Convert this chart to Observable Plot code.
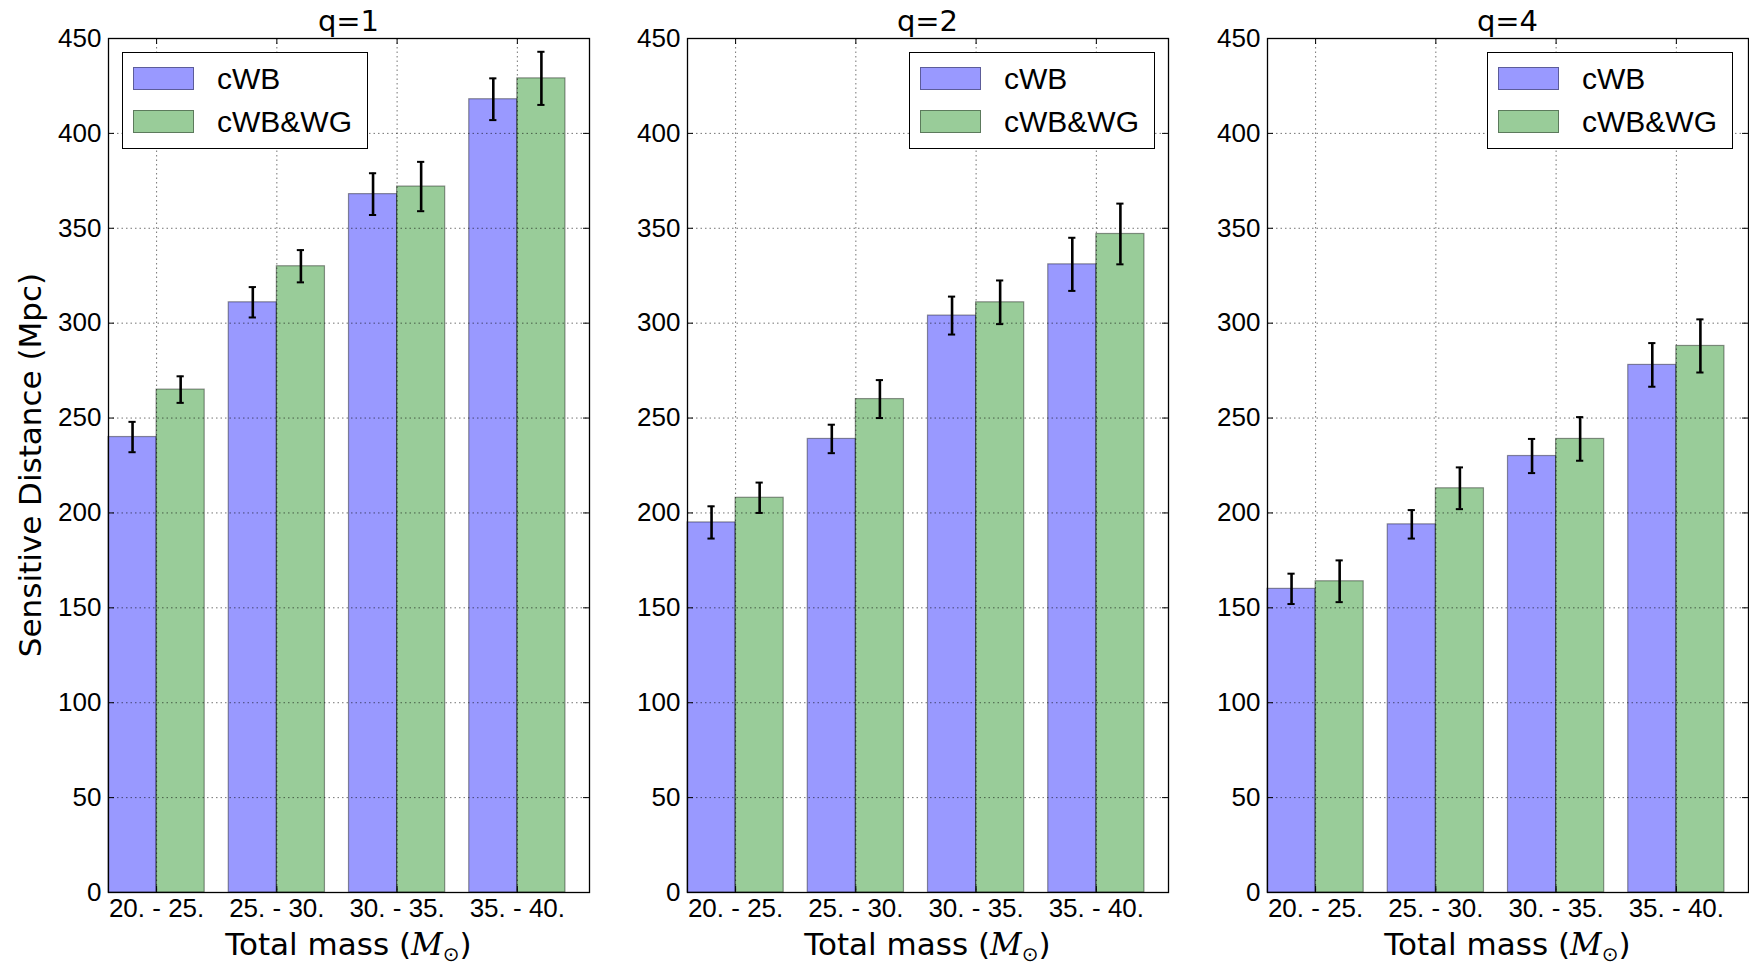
<!DOCTYPE html>
<html><head><meta charset="utf-8">
<script src="https://cdn.jsdelivr.net/npm/d3@7"></script>
<script src="https://cdn.jsdelivr.net/npm/@observablehq/plot@0.6"></script>
<style>
body{margin:0;background:#fff;}
#chart{position:relative;width:1749px;height:968px;overflow:hidden;background:#fff;}
.panel{position:absolute;top:0;}
.legend{position:absolute;background:#fff;border:1.5px solid #000;box-sizing:border-box;font-family:"Liberation Sans",sans-serif;font-size:30px;color:#000;}
.legend .sw{position:absolute;box-sizing:border-box;}
.legend .lab{position:absolute;white-space:nowrap;line-height:1;}
</style>
</head><body>
<div id="chart"></div>
<script>
// ---- data ----
const categories = ["20. - 25.", "25. - 30.", "30. - 35.", "35. - 40."];
const seriesNames = ["cWB", "cWB&WG"];
const panelTitles = ["q=1", "q=2", "q=4"];
const cwbValues = [[240, 311, 368, 418], [195, 239, 304, 331], [160, 194, 230, 278]];
const cwbErrors = [[8, 8, 11, 11], [8.5, 7.5, 10, 14], [8, 7.5, 9, 11.5]];
const wgValues  = [[265, 330, 372, 429], [208, 260, 311, 347], [164, 213, 239, 288]];
const wgErrors  = [[7, 8.5, 13, 14], [8, 10, 11.5, 16], [11, 11, 11.5, 14]];
const yTicks = [0, 50, 100, 150, 200, 250, 300, 350, 400, 450];

// ---- style / layout ----
const seriesColors = ["#0000ff", "#008000"];
const barWidth = 0.4;
const capHalf = 0.03;
const frameW = 481, frameH = 854;
const mL = 108, mR = 2, mT = 38, mB = 76;
const frameLefts = [108, 687, 1267];
const legendLefts = [122, 909, 1487];
const labelFont = "'DejaVu Sans', sans-serif";
const tickFont = "'Liberation Sans', sans-serif";

const chart = document.getElementById("chart");

panelTitles.forEach((title, p) => {
  const rows = [];
  [cwbValues[p], wgValues[p]].forEach((vals, s) => {
    const errs = s === 0 ? cwbErrors[p] : wgErrors[p];
    vals.forEach((v, i) => rows.push({cat: i, series: s, value: v, err: errs[i]}));
  });
  const x1 = d => d.cat + d.series * barWidth;
  const x2 = d => d.cat + (d.series + 1) * barWidth;
  const xc = d => d.cat + (d.series + 0.5) * barWidth;
  const xTickPos = categories.map((c, i) => i + barWidth);
  const grid = {stroke: "#000", strokeOpacity: 0.55, strokeWidth: 1, strokeDasharray: "1.5,3"};

  const svg = Plot.plot({
    width: mL + frameW + mR, height: mT + frameH + mB,
    marginLeft: mL, marginRight: mR, marginTop: mT, marginBottom: mB,
    style: {background: "transparent", fontFamily: tickFont, fontSize: "26px", color: "#000", overflow: "visible"},
    x: {domain: [0, 4], axis: null},
    y: {domain: [0, 450], axis: null},
    marks: [
      ...[0, 1].map(s => Plot.rectY(rows.filter(d => d.series === s), {
        x1, x2, y1: 0, y2: "value",
        fill: seriesColors[s], fillOpacity: 0.4, stroke: "#000", strokeOpacity: 0.4, strokeWidth: 1.2
      })),
      Plot.gridY(yTicks, grid),
      Plot.gridX(xTickPos, grid),
      Plot.ruleX(rows, {x: xc, y1: d => d.value - d.err, y2: d => d.value + d.err, stroke: "#000", strokeWidth: 2.6}),
      Plot.ruleY(rows, {x1: d => xc(d) - capHalf, x2: d => xc(d) + capHalf, y: d => d.value - d.err, stroke: "#000", strokeWidth: 2}),
      Plot.ruleY(rows, {x1: d => xc(d) - capHalf, x2: d => xc(d) + capHalf, y: d => d.value + d.err, stroke: "#000", strokeWidth: 2}),
      Plot.tickY(yTicks, {y: d => d, insetRight: frameW - 6, stroke: "#000"}),
      Plot.tickY(yTicks, {y: d => d, insetLeft: frameW - 6, stroke: "#000"}),
      Plot.tickX(xTickPos, {x: d => d, insetBottom: frameH - 6, stroke: "#000"}),
      Plot.tickX(xTickPos, {x: d => d, insetTop: frameH - 6, stroke: "#000"}),
      Plot.axisY(yTicks, {tickSize: 0, tickPadding: 7, fontSize: 26, label: null}),
      Plot.axisX(xTickPos, {tickSize: 0, tickPadding: 6, fontSize: 26, label: null, tickFormat: d => categories[Math.round(d - barWidth)]}),
      Plot.frame({stroke: "#000", strokeWidth: 1.3})
    ]
  });
  svg.classList.add("panel");
  svg.style.left = (frameLefts[p] - mL) + "px";
  chart.appendChild(svg);

  const s = d3.select(svg);
  // title
  s.append("text").attr("x", mL + frameW / 2).attr("y", 31).attr("text-anchor", "middle")
    .attr("font-family", labelFont).attr("font-size", 29).attr("fill", "#000").text(title);
  // x label
  const xl = s.append("text").attr("x", mL + frameW / 2).attr("y", 955).attr("text-anchor", "middle")
    .attr("font-family", labelFont).attr("font-size", 31).attr("fill", "#000");
  xl.append("tspan").text("Total mass (");
  xl.append("tspan").attr("font-family", "'DejaVu Serif', serif").attr("font-style", "italic").text("M");
  xl.append("tspan").attr("font-size", 20).attr("dy", 6).text("\u2299");
  xl.append("tspan").attr("dy", -6).text(")");
  if (p === 0) {
    s.append("text").attr("transform", `translate(41,${mT + frameH / 2}) rotate(-90)`)
      .attr("text-anchor", "middle").attr("font-family", labelFont).attr("font-size", 31)
      .attr("fill", "#000").text("Sensitive Distance (Mpc)");
  }

  // legend
  const lg = document.createElement("div");
  lg.className = "legend";
  Object.assign(lg.style, {left: legendLefts[p] + "px", top: "52px", width: "246px", height: "97px"});
  seriesNames.forEach((name, k) => {
    const sw = document.createElement("div");
    sw.className = "sw";
    const c = d3.color(seriesColors[k]);
    Object.assign(sw.style, {left: "10px", top: (14 + k * 43) + "px", width: "61px", height: "23px",
      background: `rgba(${c.r},${c.g},${c.b},0.4)`, border: "1.2px solid rgba(0,0,0,0.4)"});
    lg.appendChild(sw);
    const lab = document.createElement("div");
    lab.className = "lab";
    Object.assign(lab.style, {left: "94px", top: (11 + k * 43) + "px"});
    lab.textContent = name;
    lg.appendChild(lab);
  });
  chart.appendChild(lg);
});
</script>
</body></html>
